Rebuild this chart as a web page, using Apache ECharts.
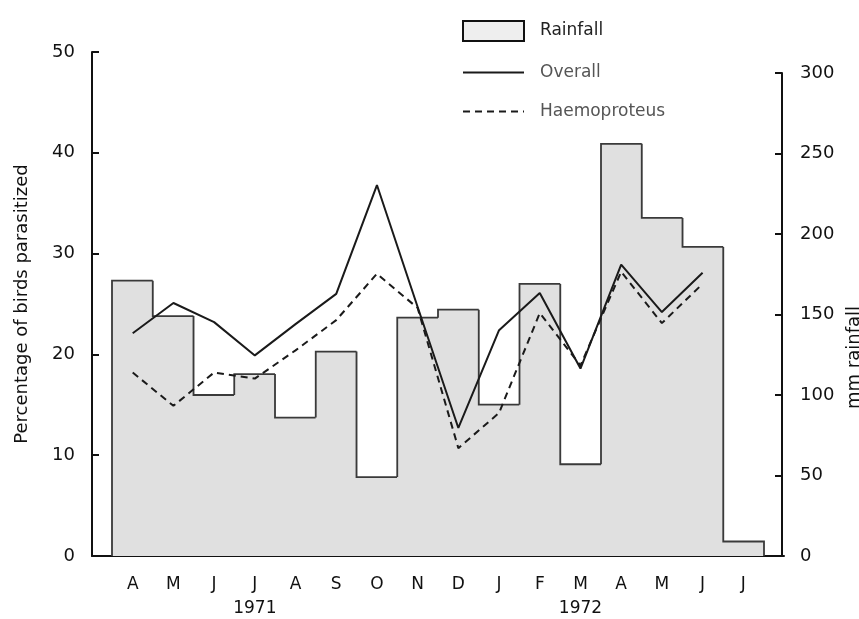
<!DOCTYPE html>
<html>
<head>
<meta charset="utf-8">
<script src="https://cdn.jsdelivr.net/npm/echarts@6/dist/echarts.min.js"></script>
<style>
html,body{margin:0;padding:0;background:#fff;}
#chart{width:859px;height:619px;}
</style>
</head>
<body>
<div id="chart"></div>
<script>
var months = ['A','M','J','J','A','S','O','N','D','J','F','M','A','M','J','J'];
var yearLabels = {3:'1971', 11:'1972'};
var rainfall = [171,149,100,113,86,127,49,148,153,94,169,57,256,210,192,9];
var overall = [22.1,25.1,23.2,19.9,23.0,26.0,36.8,24.7,12.7,22.4,26.1,18.6,28.9,24.2,28.1];
var haemoproteus = [18.2,14.9,18.2,17.6,20.4,23.4,28.0,24.6,10.7,14.2,24.1,18.9,28.2,23.1,27.0];
var leftTicks = [0,10,20,30,40,50];
var rightTicks = [0,50,100,150,200,250,300];

var FONT = 'DejaVu Sans';
var chart = echarts.init(document.getElementById('chart'));

function pairs(arr){ return arr.map(function(v,i){ return [i, v]; }); }

var option = {
  backgroundColor: '#ffffff',
  animation: false,
  textStyle: {fontFamily: FONT},
  legend: {
    orient: 'vertical',
    left: 457,
    top: 15,
    itemWidth: 61,
    itemHeight: 20,
    itemGap: 22,
    textStyle: {fontFamily: FONT, fontSize: 17, color: '#222', padding: [0,0,0,11]},
    data: [
      {name: 'Rainfall', icon: 'rect', itemStyle: {color: '#eeeeee', borderColor: '#111', borderWidth: 2}},
      {name: 'Overall', itemStyle: {opacity: 0}, textStyle: {color: '#555'}},
      {name: 'Haemoproteus', itemStyle: {opacity: 0}, textStyle: {color: '#555'}}
    ]
  },
  grid: [
    {left: 92, right: 75, top: 52, bottom: 63, containLabel: false, outerBoundsMode: 'none'},
    {left: 112, right: 95, top: 73, bottom: 63, containLabel: false, outerBoundsMode: 'none'}
  ],
  xAxis: [
    {
      type: 'value', gridIndex: 0, min: -1, max: 16, interval: 1,
      axisLine: {show: true, onZero: false, lineStyle: {color: '#111', width: 2}},
      axisTick: {show: false},
      splitLine: {show: false},
      axisLabel: {
        margin: 17,
        fontFamily: FONT, fontSize: 17, color: '#111', lineHeight: 24,
        formatter: function(v){
          if (v < 0 || v > 15) return '';
          var m = months[v];
          return yearLabels[v] ? m + '\n' + yearLabels[v] : m;
        }
      }
    },
    {
      type: 'category', gridIndex: 1, data: months, boundaryGap: true,
      show: false
    }
  ],
  yAxis: [
    {
      type: 'value', gridIndex: 0, position: 'left', min: 0, max: 50, interval: 10,
      name: 'Percentage of birds parasitized',
      nameLocation: 'middle', nameGap: 61, nameRotate: 90,
      nameTextStyle: {fontFamily: FONT, fontSize: 18, color: '#111'},
      axisLine: {show: true, onZero: false, lineStyle: {color: '#111', width: 2}},
      axisTick: {show: true, inside: true, length: 7, lineStyle: {color: '#111', width: 2}},
      splitLine: {show: false},
      axisLabel: {margin: 17, fontFamily: FONT, fontSize: 18, color: '#111',
        formatter: function(v){ return leftTicks.indexOf(v) >= 0 ? String(v) : ''; }}
    },
    {
      type: 'value', gridIndex: 1, position: 'right', offset: 18, min: 0, max: 300, interval: 50,
      name: 'mm rainfall',
      nameLocation: 'middle', nameGap: 30, nameRotate: 90,
      nameTextStyle: {fontFamily: FONT, fontSize: 18, color: '#111', padding: [0, 86, 0, 0]},
      axisLine: {show: true, onZero: false, lineStyle: {color: '#111', width: 2}},
      axisTick: {show: true, inside: true, length: 7, lineStyle: {color: '#111', width: 2}},
      splitLine: {show: false},
      axisLabel: {margin: 18, fontFamily: FONT, fontSize: 18, color: '#111',
        formatter: function(v){ return rightTicks.indexOf(v) >= 0 ? String(v) : ''; }}
    }
  ],
  series: [
    {
      name: 'Rainfall',
      type: 'custom',
      xAxisIndex: 1, yAxisIndex: 1,
      z: 1,
      data: rainfall.map(function(v,i){ return [i, v]; }),
      encode: {x: 0, y: 1},
      renderItem: function(params, api){
        var i = api.value(0);
        var v = api.value(1);
        var top = api.coord([i, v]);
        var base = api.coord([i, 0]);
        var w = api.size([1, 0])[0];
        var x0 = top[0] - w/2, x1 = top[0] + w/2;
        var prevY = i > 0 ? api.coord([i-1, rainfall[i-1]])[1] : base[1];
        var pts = [[x0, prevY], [x0, top[1]], [x1, top[1]]];
        if (i === rainfall.length - 1) pts.push([x1, base[1]]);
        var ext = (i === rainfall.length - 1) ? 0 : 1;
        return {
          type: 'group',
          children: [
            {type: 'rect', shape: {x: x0, y: top[1], width: w + ext, height: base[1] - top[1]},
             style: {fill: '#e0e0e0'}},
            {type: 'polyline', shape: {points: pts},
             style: {stroke: '#3a3a3a', lineWidth: 1.8, fill: null}}
          ]
        };
      }
    },
    {
      name: 'Overall',
      type: 'line',
      xAxisIndex: 0, yAxisIndex: 0,
      z: 5,
      symbol: 'none',
      data: pairs(overall),
      lineStyle: {color: '#1a1a1a', width: 2},
      itemStyle: {color: '#1a1a1a'}
    },
    {
      name: 'Haemoproteus',
      type: 'line',
      xAxisIndex: 0, yAxisIndex: 0,
      z: 5,
      symbol: 'none',
      data: pairs(haemoproteus),
      lineStyle: {color: '#1a1a1a', width: 2, type: [7, 5]},
      itemStyle: {color: '#1a1a1a'}
    }
  ]
};
chart.setOption(option);
</script>
</body>
</html>
